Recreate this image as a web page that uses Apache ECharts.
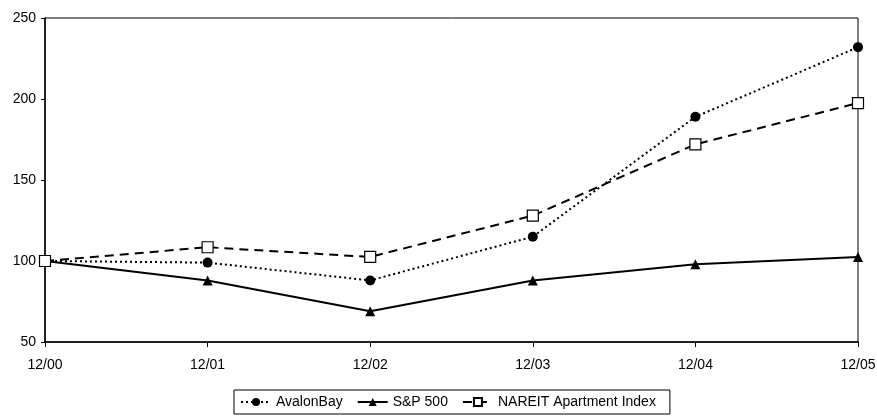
<!DOCTYPE html>
<html>
<head>
<meta charset="utf-8">
<script src="https://cdn.jsdelivr.net/npm/echarts@6/dist/echarts.min.js"></script>
<style>html,body{margin:0;padding:0;background:#fff}#c{width:877px;height:416px}</style>
</head>
<body>
<div id="c"></div>
<script>
var categories = ['12/00','12/01','12/02','12/03','12/04','12/05'];
var avalonBay = [100, 99, 88, 115, 189, 232];
var sp500 = [100, 88, 69, 88, 98, 102.5];
var nareit = [100, 108.5, 102.5, 128, 172, 197.5];
var yTicks = [50, 100, 150, 200, 250];

var chart = echarts.init(document.getElementById('c'));
var font = 'Liberation Sans, Arial, sans-serif';
chart.setOption({
  animation: false,
  backgroundColor: '#fff',
  textStyle: {fontFamily: font, color: '#000'},
  grid: {left: 45, right: 19, top: 18, bottom: 74, show: true, borderColor: '#000', borderWidth: 1,
         containLabel: false, outerBoundsMode: 'none'},
  xAxis: {
    type: 'category', data: categories, boundaryGap: false,
    axisLine: {lineStyle: {color: '#000', width: 1.5}},
    axisTick: {show: true, alignWithLabel: true, length: 5, lineStyle: {color: '#000'}},
    axisLabel: {color: '#000', fontSize: 14, fontFamily: font, margin: 16},
    splitLine: {show: false}
  },
  yAxis: {
    type: 'value', min: yTicks[0], max: yTicks[yTicks.length-1], interval: 50,
    axisLine: {show: true, lineStyle: {color: '#000', width: 1.5}},
    axisTick: {show: true, length: 4, lineStyle: {color: '#000'}},
    axisLabel: {color: '#000', fontSize: 14, fontFamily: font, margin: 9},
    splitLine: {show: false}
  },
  legend: {
    bottom: 2, left: 234,
    borderColor: '#000', borderWidth: 1, borderRadius: 0,
    padding: [5, 14, 5, 6],
    itemGap: 14, itemWidth: 30, itemHeight: 10,
    textStyle: {color: '#000', fontSize: 14, fontFamily: font},
    data: ['AvalonBay', 'S&P 500', 'NAREIT Apartment Index']
  },
  series: [
    {name: 'AvalonBay', type: 'line', data: avalonBay, symbol: 'circle', symbolSize: 10,
     itemStyle: {color: '#000'}, lineStyle: {color: '#000', width: 2, type: [2, 3]}},
    {name: 'S&P 500', type: 'line', data: sp500, symbol: 'triangle', symbolSize: 10,
     itemStyle: {color: '#000'}, lineStyle: {color: '#000', width: 2, type: 'solid'}},
    {name: 'NAREIT Apartment Index', type: 'line', data: nareit, symbol: 'rect', symbolSize: 11,
     itemStyle: {color: '#fff', borderColor: '#000', borderWidth: 1.2}, lineStyle: {color: '#000', width: 2, type: [9, 6]}}
  ]
});
</script>
</body>
</html>
